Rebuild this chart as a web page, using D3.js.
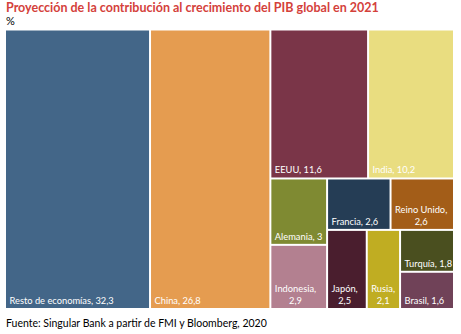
<!DOCTYPE html>
<html>
<head>
<meta charset="utf-8">
<script src="https://cdn.jsdelivr.net/npm/d3@7"></script>
<style>
  body { margin: 0; background: #fff; }
  text { font-family: Lato, "Open Sans", sans-serif; }
</style>
</head>
<body>
<script>
// contribution to 2021 global GDP growth, by economy (%)
var paises = ["Resto de economías", "China", "EEUU", "India", "Alemania", "Indonesia",
              "Francia", "Reino Unido", "Japón", "Rusia", "Turquía", "Brasil"];
var valores = [32.3, 26.8, 11.6, 10.2, 3, 2.9, 2.6, 2.6, 2.5, 2.1, 1.8, 1.6];
var colores = ["#436688", "#e59c50", "#7a3548", "#e9dd80", "#7f8a32", "#b38090",
               "#253d55", "#a35d18", "#4a1e2e", "#c0ad22", "#4a4f1f", "#704258"];
// how the tiles nest (indexes into paises)
var grupos = [0, 1, [[2, 3], [[4, 5], [[6, 7], [8, 9, [10, 11]]]]]];

var width = 461,
    height = 334,
    labelSize = 9.3;

var svg = d3.select("body")
    .append("svg")
    .attr("width", width)
    .attr("height", height);

svg.append("text")
    .attr("x", 6)
    .attr("y", 12)
    .attr("fill", "#d4413b")
    .attr("font-size", 12.5)
    .attr("font-weight", "bold")
    .text("Proyección de la contribución al crecimiento del PIB global en 2021");

svg.append("text")
    .attr("x", 6)
    .attr("y", 25)
    .attr("font-size", 11)
    .text("%");

svg.append("text")
    .attr("x", 6)
    .attr("y", 327)
    .attr("font-size", 10.5)
    .text("Fuente: Singular Bank a partir de FMI y Bloomberg, 2020");

//turn the nested index lists into a tree
function nodo(g) {
    if (Array.isArray(g)) return { children: g.map(nodo) };
    return { name: paises[g], value: valores[g], color: colores[g] };
}

var root = d3.hierarchy(nodo(grupos))
    .sum(function(d) { return d.value || 0; });

//split each block along its longer side
function tile(node, x0, y0, x1, y1) {
    if (x1 - x0 >= y1 - y0) d3.treemapDice(node, x0, y0, x1, y1);
    else d3.treemapSlice(node, x0, y0, x1, y1);
}

d3.treemap()
    .tile(tile)
    .size([449, 279.5])
    (root);

var fmt = function(v) { return String(v).replace(".", ","); };

var chart = svg.append("g")
    .attr("transform", "translate(5,29.5)");

var hojas = chart.selectAll("g")
    .data(root.leaves())
    .enter()
    .append("g");

hojas.append("rect")
    .attr("x", function(d) { return d.x0 + 1; })
    .attr("y", function(d) { return d.y0 + 1; })
    .attr("width", function(d) { return d.x1 - d.x0 - 2; })
    .attr("height", function(d) { return d.y1 - d.y0 - 2; })
    .attr("fill", function(d) { return d.data.color; });

hojas.each(function(d) {
    var g = d3.select(this),
        full = d.data.name + ", " + fmt(d.data.value),
        avail = d.x1 - d.x0 - 6;
    var t = g.append("text")
        .attr("fill", "#fff")
        .attr("font-size", labelSize)
        .attr("x", d.x0 + 4.5)
        .attr("y", d.y1 - 5)
        .text(full);
    if (t.node().getComputedTextLength() > avail) {
        //two lines, centred on each other
        t.text(d.data.name + ",");
        var w = t.node().getComputedTextLength();
        t.attr("y", d.y1 - 17);
        g.append("text")
            .attr("fill", "#fff")
            .attr("font-size", labelSize)
            .attr("text-anchor", "middle")
            .attr("x", d.x0 + 4.5 + w / 2)
            .attr("y", d.y1 - 5)
            .text(fmt(d.data.value));
    }
});
</script>
</body>
</html>
